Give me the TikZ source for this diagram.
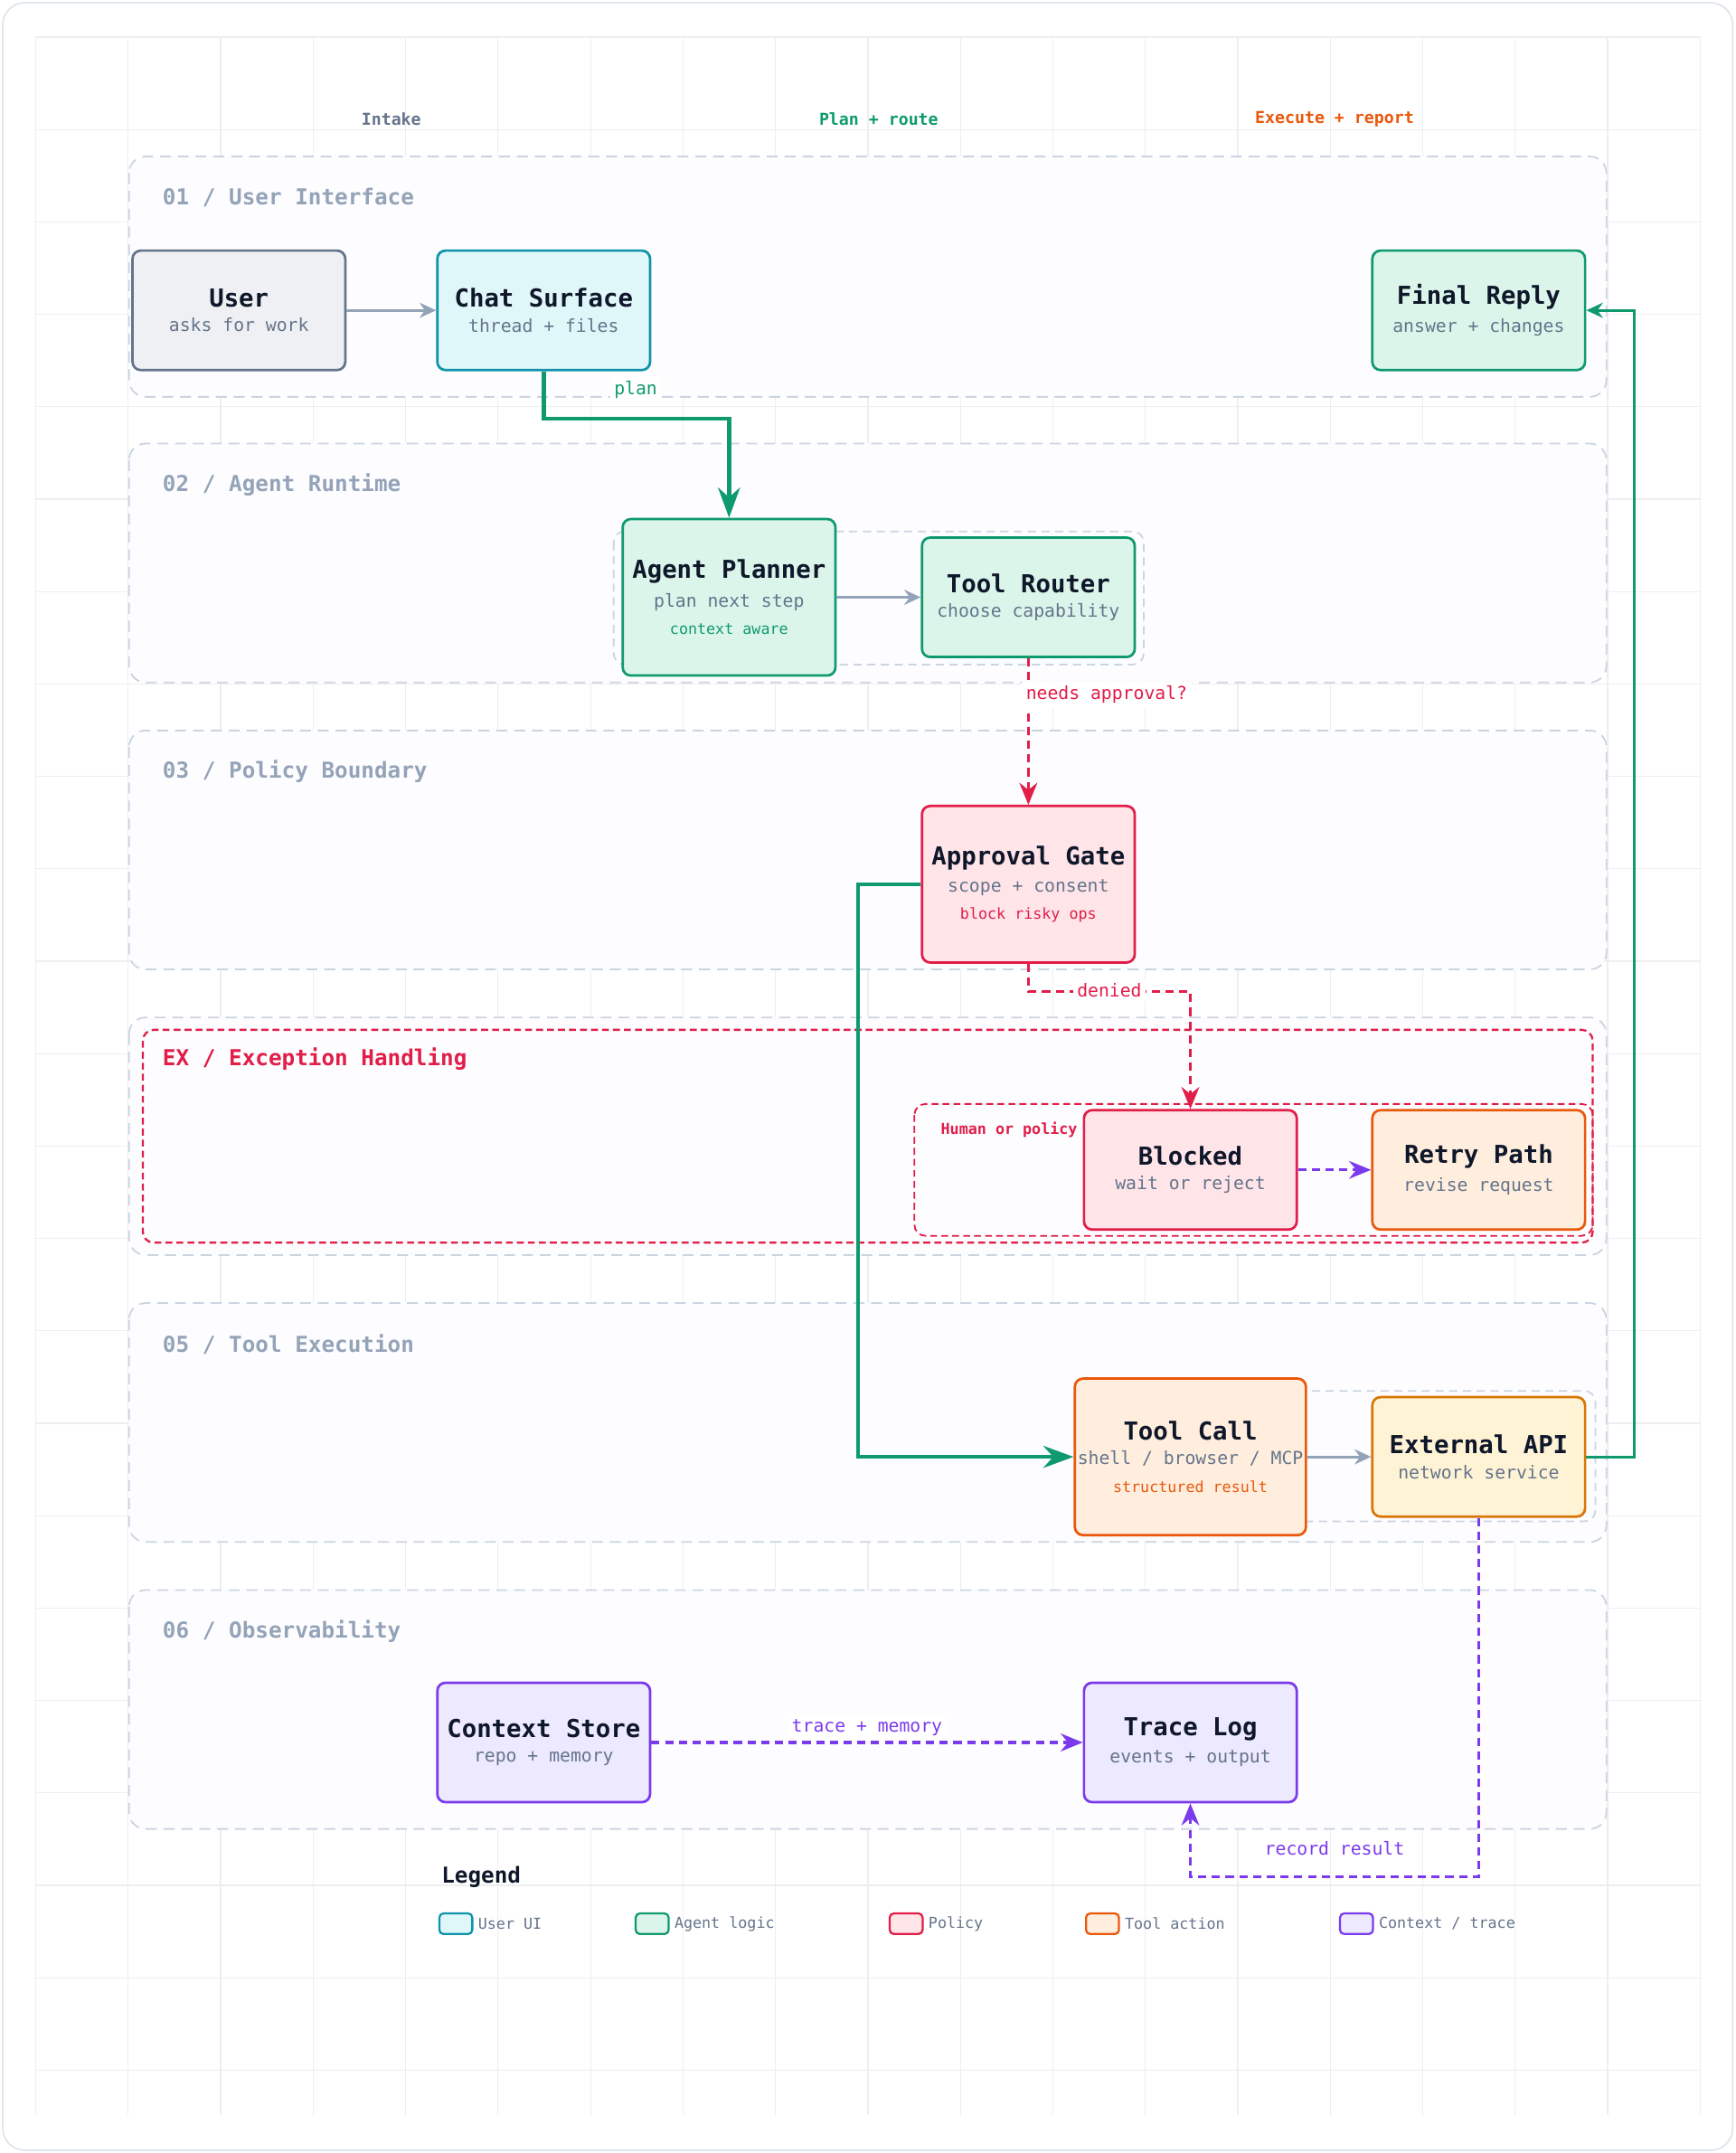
\documentclass[tikz,border=0pt]{standalone}
\usepackage{fontspec}
\setmainfont{DejaVu Sans Mono}
\usetikzlibrary{arrows.meta,positioning}
\definecolor{slate}{HTML}{64748B}
\definecolor{lanegray}{HTML}{94A3B8}
\definecolor{dashgray}{HTML}{CBD5E1}
\definecolor{ink}{HTML}{0F172A}
\definecolor{uifill}{HTML}{E0F7FA}\definecolor{uidraw}{HTML}{0E93AA}
\definecolor{agfill}{HTML}{DBF5EA}\definecolor{agdraw}{HTML}{0F9A6E}
\definecolor{pofill}{HTML}{FFE4E8}\definecolor{podraw}{HTML}{E11D48}
\definecolor{tofill}{HTML}{FFEEDD}\definecolor{todraw}{HTML}{EA580C}
\definecolor{apfill}{HTML}{FFF3D6}\definecolor{apdraw}{HTML}{D97706}
\definecolor{cxfill}{HTML}{EDE9FE}\definecolor{cxdraw}{HTML}{7C3AED}
\definecolor{usfill}{HTML}{EEF0F3}
\newcommand{\boxtext}[3]{{\fontsize{18}{20}\selectfont\bfseries\color{ink}#1}\\[6pt]{\fontsize{13}{15}\selectfont\color{slate}#2}#3}
\newcommand{\tagline}[2]{\\[8pt]{\fontsize{11}{13}\selectfont\color{#1}#2}}
\tikzset{
  box/.style={draw, line width=1.8pt, rounded corners=6pt, minimum width=155pt, minimum height=87pt, align=center, inner sep=2pt},
  tallbox/.style={box, minimum height=114pt},
  lane/.style={draw=dashgray, dash pattern=on 8pt off 5pt, line width=1.2pt, fill=white!70!blue!2, rounded corners=12pt},
  group/.style={draw=dashgray, dash pattern=on 6pt off 4pt, line width=1.2pt, rounded corners=8pt},
  lanetitle/.style={anchor=west, text=lanegray, font=\fontsize{16}{18}\selectfont\bfseries},
  flow/.style={line width=2pt, -{Stealth[length=12pt,width=11pt]}},
  main/.style={line width=3pt, draw=agdraw, -{Stealth[length=22pt,width=16pt]}},
  dsh/.style={line width=2pt, dash pattern=on 6pt off 4pt, -{Stealth[length=16pt,width=13pt]}},
  elabel/.style={fill=white, inner sep=3pt, font=\fontsize{13}{15}\selectfont},
  legbox/.style={draw, line width=1.5pt, rounded corners=3pt, minimum width=24pt, minimum height=15pt},
  legtext/.style={anchor=west, text=slate, font=\fontsize{11}{13}\selectfont}
}
\begin{document}
\begin{tikzpicture}[x=1pt,y=-1pt]
\useasboundingbox (0,0) rectangle (1264,1568);
\draw[draw=dashgray!60, fill=white, rounded corners=16pt, line width=1.2pt] (2,2) rectangle (1262,1566);
% grid
\foreach \i in {0,...,18} \draw[blue!10!gray!12, line width=0.8pt] (26+67.35*\i,27) -- (26+67.35*\i,1540);
\foreach \i in {0,...,22} \draw[blue!10!gray!12, line width=0.8pt] (26,27+67.3*\i) -- (1238,27+67.3*\i);
% column labels
\node[text=slate, font=\fontsize{12}{14}\selectfont\bfseries] (colA) at (285,87) {Intake};
\node[text=agdraw, font=\fontsize{12}{14}\selectfont\bfseries] (colB) at (640,87) {Plan + route};
\node[text=todraw, font=\fontsize{12}{14}\selectfont\bfseries] (colC) at (972,87) {Execute + report};
% lanes
\draw[lane] (94,114) rectangle (1170,289);
\draw[lane] (94,323) rectangle (1170,497);
\draw[lane] (94,532) rectangle (1170,706);
\draw[lane] (94,741) rectangle (1170,914);
\draw[lane] (94,949) rectangle (1170,1123);
\draw[lane] (94,1158) rectangle (1170,1332);
\draw[draw=podraw, dash pattern=on 5pt off 3pt, line width=1.5pt, rounded corners=8pt] (104,750) rectangle (1160,905);
\node[lanetitle] (l1) at (115,144) {01 / User Interface};
\node[lanetitle] (l2) at (115,353) {02 / Agent Runtime};
\node[lanetitle] (l3) at (115,562) {03 / Policy Boundary};
\node[lanetitle, text=podraw] (l4) at (115,771) {EX / Exception Handling};
\node[lanetitle] (l5) at (115,979) {05 / Tool Execution};
\node[lanetitle] (l6) at (115,1188) {06 / Observability};
% groups
\draw[group] (447,387) rectangle (833,484);
\draw[group, draw=podraw, dash pattern=on 5pt off 3pt] (666,804) rectangle (1160,900);
\node[text=podraw, font=\fontsize{11}{13}\selectfont\bfseries] (hp) at (735,823) {Human or policy};
\draw[group] (784,1013) rectangle (1162,1108);
% nodes
\node[box, fill=usfill, draw=slate] (user) at (174,226) {\boxtext{User}{asks for work}{}};
\node[box, fill=uifill, draw=uidraw] (chat) at (396,226) {\boxtext{Chat Surface}{thread + files}{}};
\node[box, fill=agfill, draw=agdraw] (final) at (1077,226) {\boxtext{Final Reply}{answer + changes}{}};
\node[tallbox, fill=agfill, draw=agdraw] (planner) at (531,435) {\boxtext{Agent Planner}{plan next step}{\tagline{agdraw}{context aware}}};
\node[box, fill=agfill, draw=agdraw] (router) at (749,435) {\boxtext{Tool Router}{choose capability}{}};
\node[tallbox, fill=pofill, draw=podraw] (gate) at (749,644) {\boxtext{Approval Gate}{scope + consent}{\tagline{podraw}{block risky ops}}};
\node[box, fill=pofill, draw=podraw] (blocked) at (867,852) {\boxtext{Blocked}{wait or reject}{}};
\node[box, fill=tofill, draw=todraw] (retry) at (1077,852) {\boxtext{Retry Path}{revise request}{}};
\node[tallbox, fill=tofill, draw=todraw] (call) at (867,1061) {\boxtext{Tool Call}{shell / browser / MCP}{\tagline{todraw}{structured result}}};
\node[box, fill=apfill, draw=apdraw] (api) at (1077,1061) {\boxtext{External API}{network service}{}};
\node[box, fill=cxfill, draw=cxdraw] (store) at (396,1269) {\boxtext{Context Store}{repo + memory}{}};
\node[box, fill=cxfill, draw=cxdraw] (trace) at (867,1269) {\boxtext{Trace Log}{events + output}{}};
% connectors
\draw[flow, draw=lanegray] (user) -- (chat);
\draw[main] (chat.south) |- (464,305) -| (planner.north);
\node[elabel, text=agdraw] (lplan) at (463,284) {plan};
\draw[flow, draw=lanegray] (planner) -- (router);
\draw[dsh, draw=podraw] (router) -- node[elabel, text=podraw, pos=0.25, xshift=57pt] {needs approval?} (gate);
\draw[dsh, draw=podraw] (gate.south) |- (808,722) -| (blocked.north);
\node[elabel, text=podraw] (lden) at (808,721) {denied};
\draw[dsh, draw=cxdraw] (blocked) -- (retry);
\draw[main] (gate.west) -| (625,850) |- (call.west);
\draw[flow, draw=lanegray] (call) -- (api);
\draw[flow, draw=agdraw] (api.east) -| (1190,640) |- (final.east);
\draw[dsh, draw=cxdraw] (api.south) |- (972,1367) -| (trace.south);
\node[elabel, text=cxdraw, fill=none] (lrec) at (972,1346) {record result};
\draw[dsh, draw=cxdraw] (store) -- node[elabel, text=cxdraw, yshift=11pt] {trace + memory} (trace);
% legend
\node[anchor=west, text=ink, font=\fontsize{16}{18}\selectfont\bfseries] (leg) at (318,1367) {Legend};
\node[legbox, fill=uifill, draw=uidraw] (k1) at (332,1401) {};
\node[legtext] at (k1.east) {User UI};
\node[legbox, fill=agfill, draw=agdraw] (k2) at (475,1401) {};
\node[legtext] at (k2.east) {Agent logic};
\node[legbox, fill=pofill, draw=podraw] (k3) at (660,1401) {};
\node[legtext] at (k3.east) {Policy};
\node[legbox, fill=tofill, draw=todraw] (k4) at (803,1401) {};
\node[legtext] at (k4.east) {Tool action};
\node[legbox, fill=cxfill, draw=cxdraw] (k5) at (988,1401) {};
\node[legtext] at (k5.east) {Context / trace};
\end{tikzpicture}
\end{document}
